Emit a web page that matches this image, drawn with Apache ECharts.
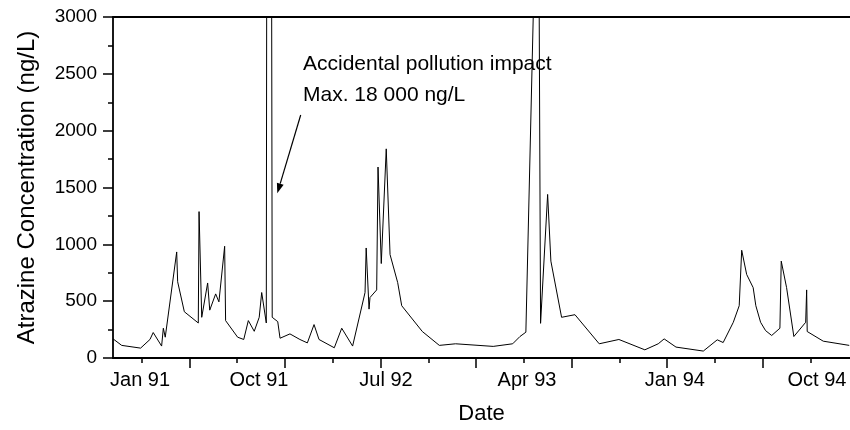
<!DOCTYPE html>
<html>
<head>
<meta charset="utf-8">
<script src="https://cdn.jsdelivr.net/npm/echarts@6/dist/echarts.min.js"></script>
<style>
  html, body { margin: 0; padding: 0; background: #fff; }
  #chart { width: 850px; height: 430px; }
</style>
</head>
<body>
<div id="chart"></div>
<script>
  // sample dates as decimal years
  const sampleDate = [
    1991.100, 1991.145, 1991.244, 1991.293, 1991.310, 1991.354, 1991.363, 1991.373,
    1991.433, 1991.438, 1991.473, 1991.546, 1991.550, 1991.564, 1991.595, 1991.606,
    1991.637, 1991.654, 1991.684, 1991.689, 1991.752, 1991.784, 1991.808, 1991.839,
    1991.865, 1991.878, 1991.902, 1991.915, 1991.933, 1991.962, 1991.974, 1992.026,
    1992.078, 1992.117, 1992.152, 1992.178, 1992.258, 1992.297, 1992.354, 1992.419,
    1992.425, 1992.440, 1992.445, 1992.480, 1992.487, 1992.504, 1992.530, 1992.550,
    1992.590, 1992.611, 1992.719, 1992.808, 1992.893, 1993.090, 1993.192, 1993.230,
    1993.261, 1993.326, 1993.338, 1993.375, 1993.392, 1993.448, 1993.518, 1993.645,
    1993.748, 1993.884, 1993.954, 1993.985, 1994.047, 1994.190, 1994.263, 1994.294,
    1994.347, 1994.378, 1994.391, 1994.417, 1994.451, 1994.465, 1994.490, 1994.516,
    1994.548, 1994.591, 1994.598, 1994.626, 1994.664, 1994.726, 1994.731, 1994.734,
    1994.818, 1994.954
  ];
  // atrazine, ng/L
  const atrazine = [
    168, 111, 87, 163, 224, 105, 262, 183,
    933, 671, 407, 308, 1288, 358, 660, 421,
    564, 494, 983, 329, 183, 163, 329, 235,
    358, 576, 308, 18000, 358, 320, 174, 212,
    163, 133, 294, 163, 90, 262, 105, 576,
    968, 430, 532, 599, 1680, 831, 1840, 910,
    663, 460, 233, 111, 125, 102, 125, 189,
    227, 4900, 305, 1439, 852, 358, 381, 125,
    163, 72, 125, 168, 96, 61, 160, 136,
    314, 460, 948, 735, 619, 460, 314, 241,
    198, 262, 852, 619, 189, 314, 599, 233,
    148, 111
  ];

  const xMin = 1991.0995;
  const xMax = 1994.958;
  const majorTicks = [1991.5, 1992.0, 1992.5, 1993.0, 1993.5, 1994.0, 1994.5];
  const minorTicks = [1991.25, 1991.75, 1992.25, 1992.75, 1993.25, 1993.75, 1994.25, 1994.75];
  const tickLabels = ['Jan 91', 'Oct 91', 'Jul 92', 'Apr 93', 'Jan 94', 'Oct 94'];
  const tickLabelPos = [1991.241, 1991.864, 1992.529, 1993.267, 1994.041, 1994.785];

  const font = "'Liberation Sans', Arial, sans-serif";
  const black = '#000';

  const chart = echarts.init(document.getElementById('chart'));

  const option = {
    animation: false,
    backgroundColor: '#fff',
    grid: { left: 113, right: 0, top: 17, bottom: 69 },
    xAxis: [
      {
        type: 'value',
        position: 'bottom',
        min: xMin,
        max: xMax,
        name: 'Date',
        nameLocation: 'middle',
        nameGap: 45,
        nameTextStyle: { color: black, fontSize: 22, fontFamily: font },
        axisLine: { lineStyle: { color: black, width: 1.8 } },
        axisTick: { length: 10, customValues: majorTicks, lineStyle: { color: black, width: 1.5 } },
        axisLabel: {
          customValues: tickLabelPos,
          color: black,
          fontSize: 20,
          fontFamily: font,
          margin: 12,
          formatter: (v) => {
            let best = 0;
            tickLabelPos.forEach((p, i) => {
              if (Math.abs(p - v) < Math.abs(tickLabelPos[best] - v)) best = i;
            });
            return tickLabels[best];
          },
        },
        splitLine: { show: false },
      },
      {
        type: 'value',
        position: 'bottom',
        min: xMin,
        max: xMax,
        axisLine: { show: false },
        axisTick: { length: 5, customValues: minorTicks, lineStyle: { color: black, width: 1.5 } },
        axisLabel: { show: false },
        splitLine: { show: false },
      },
      {
        type: 'value',
        position: 'top',
        min: xMin,
        max: xMax,
        axisLine: { lineStyle: { color: black, width: 1.8 } },
        axisTick: { show: false },
        axisLabel: { show: false },
        splitLine: { show: false },
      },
    ],
    yAxis: {
      type: 'value',
      min: 0,
      max: 3000,
      interval: 500,
      name: 'Atrazine Concentration (ng/L)',
      nameLocation: 'middle',
      nameGap: 74,
      nameTextStyle: { color: black, fontSize: 24, fontFamily: font },
      axisLine: { show: true, lineStyle: { color: black, width: 1.8 } },
      axisTick: { show: true, length: 10, lineStyle: { color: black, width: 1.5 } },
      minorTick: { show: true, splitNumber: 2, length: 5, lineStyle: { color: black, width: 1.5 } },
      axisLabel: {
        color: black,
        fontSize: 19,
        fontFamily: font,
        margin: 16,
        formatter: (v) => String(v),
      },
      splitLine: { show: false },
    },
    series: [
      {
        type: 'line',
        xAxisIndex: 0,
        data: sampleDate.map((d, i) => [d, atrazine[i]]),
        symbol: 'none',
        clip: true,
        lineStyle: { color: black, width: 1 },
      },
    ],
    graphic: [
      {
        type: 'text',
        left: 303,
        top: 49,
        style: {
          text: 'Accidental pollution impact\nMax. 18 000 ng/L',
          fill: black,
          font: '21px ' + font,
          lineHeight: 31,
        },
      },
      {
        type: 'line',
        shape: { x1: 300.7, y1: 115, x2: 280.2, y2: 183.7 },
        style: { stroke: black, lineWidth: 1.2 },
      },
      {
        type: 'polygon',
        shape: { points: [[277.3, 193.3], [283.6, 184.7], [276.9, 182.7]] },
        style: { fill: black },
      },
    ],
  };

  chart.setOption(option);
</script>
</body>
</html>
